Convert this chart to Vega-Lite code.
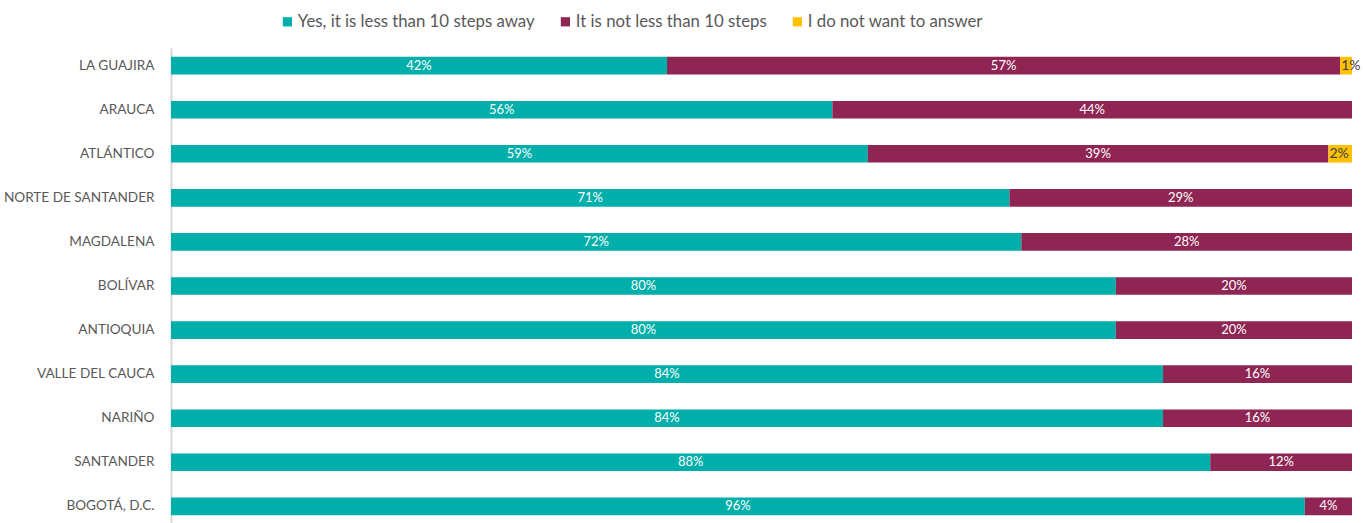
{
  "$schema": "https://vega.github.io/schema/vega-lite/v6.json",
  "autosize": {"type": "none"},
  "padding": {"left": 171, "top": 48, "right": 11, "bottom": 0},
  "width": 1181,
  "height": 476,
  "background": "white",
  "config": {"view": {"stroke": null}, "font": "Lato"},
  "data": {"values": [
    {"d": "LA GUAJIRA", "r": "Yes, it is less than 10 steps away", "k": 1, "p": 0.42},
    {"d": "LA GUAJIRA", "r": "It is not less than 10 steps", "k": 2, "p": 0.57},
    {"d": "LA GUAJIRA", "r": "I do not want to answer", "k": 3, "p": 0.01},
    {"d": "ARAUCA", "r": "Yes, it is less than 10 steps away", "k": 1, "p": 0.56},
    {"d": "ARAUCA", "r": "It is not less than 10 steps", "k": 2, "p": 0.44},
    {"d": "ATLÁNTICO", "r": "Yes, it is less than 10 steps away", "k": 1, "p": 0.59},
    {"d": "ATLÁNTICO", "r": "It is not less than 10 steps", "k": 2, "p": 0.39},
    {"d": "ATLÁNTICO", "r": "I do not want to answer", "k": 3, "p": 0.02},
    {"d": "NORTE DE SANTANDER", "r": "Yes, it is less than 10 steps away", "k": 1, "p": 0.71},
    {"d": "NORTE DE SANTANDER", "r": "It is not less than 10 steps", "k": 2, "p": 0.29},
    {"d": "MAGDALENA", "r": "Yes, it is less than 10 steps away", "k": 1, "p": 0.72},
    {"d": "MAGDALENA", "r": "It is not less than 10 steps", "k": 2, "p": 0.28},
    {"d": "BOLÍVAR", "r": "Yes, it is less than 10 steps away", "k": 1, "p": 0.80},
    {"d": "BOLÍVAR", "r": "It is not less than 10 steps", "k": 2, "p": 0.20},
    {"d": "ANTIOQUIA", "r": "Yes, it is less than 10 steps away", "k": 1, "p": 0.80},
    {"d": "ANTIOQUIA", "r": "It is not less than 10 steps", "k": 2, "p": 0.20},
    {"d": "VALLE DEL CAUCA", "r": "Yes, it is less than 10 steps away", "k": 1, "p": 0.84},
    {"d": "VALLE DEL CAUCA", "r": "It is not less than 10 steps", "k": 2, "p": 0.16},
    {"d": "NARIÑO", "r": "Yes, it is less than 10 steps away", "k": 1, "p": 0.84},
    {"d": "NARIÑO", "r": "It is not less than 10 steps", "k": 2, "p": 0.16},
    {"d": "SANTANDER", "r": "Yes, it is less than 10 steps away", "k": 1, "p": 0.88},
    {"d": "SANTANDER", "r": "It is not less than 10 steps", "k": 2, "p": 0.12},
    {"d": "BOGOTÁ, D.C.", "r": "Yes, it is less than 10 steps away", "k": 1, "p": 0.96},
    {"d": "BOGOTÁ, D.C.", "r": "It is not less than 10 steps", "k": 2, "p": 0.04}
  ]},
  "transform": [
    {"stack": "p", "groupby": ["d"], "sort": [{"field": "k", "order": "ascending"}], "as": ["x0", "x1"]},
    {"calculate": "(datum.x0 + datum.x1) / 2", "as": "xm"}
  ],
  "encoding": {
    "y": {
      "field": "d", "type": "nominal", "title": null,
      "sort": ["LA GUAJIRA", "ARAUCA", "ATLÁNTICO", "NORTE DE SANTANDER", "MAGDALENA", "BOLÍVAR", "ANTIOQUIA", "VALLE DEL CAUCA", "NARIÑO", "SANTANDER", "BOGOTÁ, D.C."],
      "scale": {"paddingInner": 0.6, "paddingOuter": 0.2},
      "axis": {"ticks": false, "grid": false, "domainColor": "#D9D9D9", "domainWidth": 2, "labelColor": "#595959", "labelFontSize": 13.6, "labelPadding": 17, "labelFont": "Lato"}
    }
  },
  "layer": [
    {
      "mark": {"type": "bar"},
      "encoding": {
        "x": {"field": "x0", "type": "quantitative", "scale": {"domain": [0, 1], "nice": false}, "axis": null},
        "x2": {"field": "x1"},
        "color": {
          "field": "r", "type": "nominal",
          "scale": {"domain": ["Yes, it is less than 10 steps away", "It is not less than 10 steps", "I do not want to answer"], "range": ["#00AEAA", "#8E2553", "#FFC000"]},
          "legend": {"title": null, "orient": "none", "legendX": 108, "legendY": -35, "direction": "horizontal", "symbolType": "square", "symbolSize": 85, "symbolStrokeWidth": 0, "labelFontSize": 16.8, "labelColor": "#595959", "labelFont": "Lato", "labelOffset": 2, "labelLimit": 0, "columnPadding": 22}
        }
      }
    },
    {
      "transform": [{"filter": "datum.k < 3"}],
      "mark": {"type": "text", "fontSize": 13, "font": "Lato", "baseline": "middle", "align": "center"},
      "encoding": {
        "x": {"field": "xm", "type": "quantitative"},
        "text": {"field": "p", "type": "quantitative", "format": ".0%"},
        "color": {"value": "white"}
      }
    },
    {
      "transform": [{"filter": "datum.k === 3"}],
      "mark": {"type": "text", "fontSize": 14, "font": "Lato", "baseline": "middle", "align": "left", "dx": 1},
      "encoding": {
        "x": {"field": "x0", "type": "quantitative"},
        "text": {"field": "p", "type": "quantitative", "format": ".0%"},
        "color": {"value": "#404040"}
      }
    }
  ]
}
